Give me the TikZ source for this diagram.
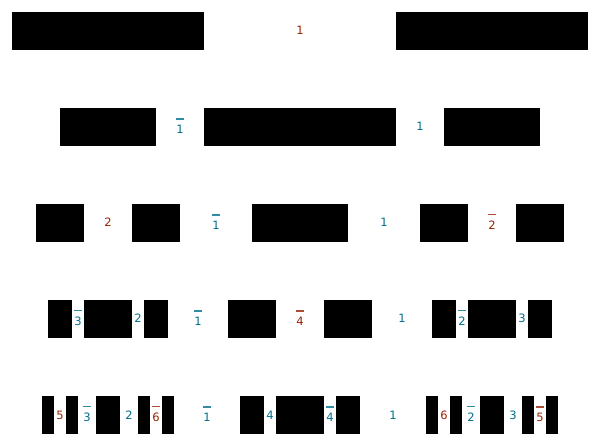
\documentclass[tikz,border=0pt]{standalone}
\usepackage{fontspec}
\setmainfont{DejaVu Sans}
\usepackage{xcolor}
\usepackage{tikz}
\usetikzlibrary{positioning}

\definecolor{labred}{HTML}{992200}
\definecolor{labblue}{HTML}{006E8C}
\newcommand{\ovl}[1]{{\setbox0\hbox{#1}%
    \rlap{\raisebox{\dimexpr\ht0+3pt\relax}{\color{.!80!white}\rule{\wd0}{1.2pt}}}%
    \lower2.5pt\box0}}

\begin{document}
\begin{tikzpicture}[x=1pt, y=-1pt,
    lab/.style={anchor=base, inner sep=0pt, font=\fontsize{11.5}{13}\selectfont},
    rl/.style={lab, text=labred},
    bl/.style={lab, text=labblue}]
    \useasboundingbox (0, 0) rectangle (600, 446);

    % 第1行
    \foreach \a/\b in {12/204, 396/588}
        \fill[black] (\a, 12) rectangle (\b, 50);
    \node[rl] (r1a) at (300, 35) {1};

    % 第2行
    \foreach \a/\b in {60/156, 204/396, 444/540}
        \fill[black] (\a, 108) rectangle (\b, 146);
    \node[bl] (r2a) at (180, 131) {\ovl{1}};
    \node[bl] (r2b) at (420, 131) {1};

    % 第3行
    \foreach \a/\b in {36/84, 132/180, 252/348, 420/468, 516/564}
        \fill[black] (\a, 204) rectangle (\b, 242);
    \node[rl] (r3a) at (108, 227) {2};
    \node[bl] (r3b) at (216, 227) {\ovl{1}};
    \node[bl] (r3c) at (384, 227) {1};
    \node[rl] (r3d) at (492, 227) {\ovl{2}};

    % 第4行
    \foreach \a/\b in {48/72, 84/132, 144/168, 228/276, 324/372, 432/456, 468/516, 528/552}
        \fill[black] (\a, 300) rectangle (\b, 338);
    \node[bl] (r4a) at (78, 323) {\ovl{3}};
    \node[bl] (r4b) at (138, 323) {2};
    \node[bl] (r4c) at (198, 323) {\ovl{1}};
    \node[rl] (r4d) at (300, 323) {\ovl{4}};
    \node[bl] (r4e) at (402, 323) {1};
    \node[bl] (r4f) at (462, 323) {\ovl{2}};
    \node[bl] (r4g) at (522, 323) {3};

    % 第5行
    \foreach \a/\b in {42/54, 66/78, 96/120, 138/150, 162/174, 240/264, 276/324,
                       336/360, 426/438, 450/462, 480/504, 522/534, 546/558}
        \fill[black] (\a, 396) rectangle (\b, 434);
    \node[rl] (r5a) at (60, 419) {5};
    \node[bl] (r5b) at (87, 419) {\ovl{3}};
    \node[bl] (r5c) at (129, 419) {2};
    \node[rl] (r5d) at (156, 419) {\ovl{6}};
    \node[bl] (r5e) at (207, 419) {\ovl{1}};
    \node[bl] (r5f) at (270, 419) {4};
    \node[bl] (r5g) at (330, 419) {\ovl{4}};
    \node[bl] (r5h) at (393, 419) {1};
    \node[rl] (r5i) at (444, 419) {6};
    \node[bl] (r5j) at (471, 419) {\ovl{2}};
    \node[bl] (r5k) at (513, 419) {3};
    \node[rl] (r5l) at (540, 419) {\ovl{5}};
\end{tikzpicture}
\end{document}
